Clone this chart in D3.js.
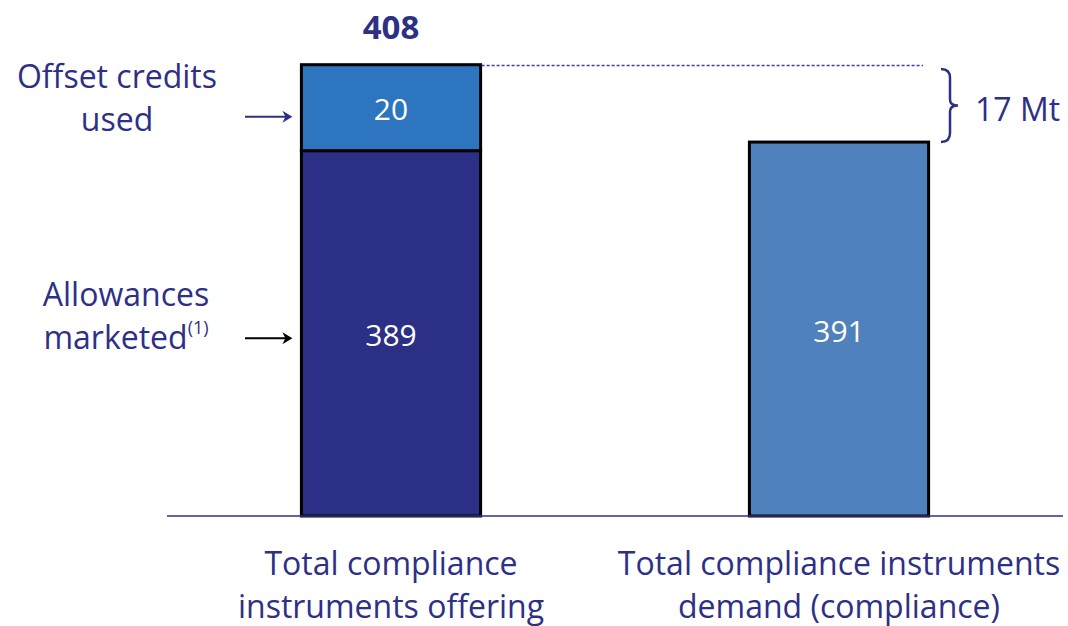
<!DOCTYPE html>
<html>
<head>
<meta charset="utf-8">
<script src="https://cdn.jsdelivr.net/npm/d3@7"></script>
<style>
  body { margin: 0; background: #fff; }
  text { font-family: "Open Sans", "Noto Sans", sans-serif; }
</style>
</head>
<body>
<svg class="chart" width="1068" height="626"></svg>
<script>
const categories = ["Total compliance instruments offering", "Total compliance instruments demand (compliance)"];
const categoryLines = [["Total compliance", "instruments offering"], ["Total compliance instruments", "demand (compliance)"]];
const segmentNames = ["Allowances marketed", "Offset credits used"];
const offeringValues = [389, 20];   // stacked, bottom to top
const demandValues = [391];
const offeringTotal = 408;
const gapLabel = "17 Mt";

function draw() {
  const svg = d3.select('svg.chart');
  const navy = '#2e3086';
  const colors = ['#2b2f86', '#2e75c0', '#4f81bd'];
  const fs = '32px';

  // axis starts well above zero in the original slide
  const y = d3.scaleLinear().domain([304, 408]).range([516, 69]);
  const x = d3.scaleBand().domain(categories).range([167, 1063])
              .paddingInner(0.6).paddingOuter(0.3);

  // stacked segments for the offering bar
  let acc = y.domain()[0];
  const stack = offeringValues.map((v, i) => {
    const lo = i === 0 ? y.domain()[0] : acc;
    const hi = (i === 0 ? 0 : lo) + v;
    acc = hi;
    return {name: segmentNames[i], lo: lo, hi: hi, value: v, color: colors[i]};
  });

  const bars = stack.map(s => ({cat: categories[0], ...s}))
    .concat([{cat: categories[1], name: 'Demand', lo: y.domain()[0], hi: demandValues[0], value: demandValues[0], color: colors[2]}]);

  svg.selectAll('rect.bar')
      .data(bars)
      .enter()
      .append('rect')
      .attr('class', 'bar')
      .attr('x', d => x(d.cat))
      .attr('width', x.bandwidth())
      .attr('y', d => y(d.hi))
      .attr('height', d => y(d.lo) - y(d.hi))
      .style('fill', d => d.color)
      .style('stroke', '#000')
      .style('stroke-width', '3px');

  // value labels inside bars
  svg.selectAll('text.val')
      .data(bars)
      .enter()
      .append('text')
      .attr('class', 'val')
      .attr('x', d => x(d.cat) + x.bandwidth() / 2)
      .attr('y', d => (y(d.lo) + y(d.hi)) / 2 + 2)
      .attr('dy', '0.36em')
      .attr('text-anchor', 'middle')
      .style('fill', '#fff')
      .style('font-size', '30px')
      .text(d => d.value);

  // baseline
  svg.append('line')
      .attr('x1', 167).attr('x2', 1063)
      .attr('y1', y.range()[0]).attr('y2', y.range()[0])
      .style('stroke', navy)
      .style('stroke-width', '1.5px');

  // total above stacked bar
  svg.append('text')
      .attr('x', x(categories[0]) + x.bandwidth() / 2)
      .attr('y', y(offeringTotal) - 30)
      .attr('text-anchor', 'middle')
      .style('fill', navy)
      .style('font-size', '33px')
      .style('font-weight', 'bold')
      .text(offeringTotal);

  // dashed reference line at the total
  svg.append('line')
      .attr('x1', x(categories[0]) + x.bandwidth() + 1)
      .attr('x2', 923)
      .attr('y1', y(offeringTotal) - 3.5).attr('y2', y(offeringTotal) - 3.5)
      .style('stroke', '#3f429a')
      .style('stroke-width', '1.4px')
      .style('stroke-dasharray', '3,2');

  // brace between total and demand
  const bx = 941, by0 = y(offeringTotal), by1 = y(demandValues[0]), bm = (by0 + by1) / 2;
  svg.append('path')
      .attr('d', `M${bx},${by0} Q${bx + 9},${by0} ${bx + 9},${by0 + 9}
                  L${bx + 9},${bm - 6} Q${bx + 9},${bm} ${bx + 17},${bm}
                  Q${bx + 9},${bm} ${bx + 9},${bm + 6}
                  L${bx + 9},${by1 - 9} Q${bx + 9},${by1} ${bx},${by1}`)
      .style('fill', 'none')
      .style('stroke', navy)
      .style('stroke-width', '2.5px');

  svg.append('text')
      .attr('x', 975)
      .attr('y', bm + 4)
      .attr('dy', '0.36em')
      .style('fill', navy)
      .style('font-size', fs)
      .text(gapLabel);

  // side labels with arrows
  const sideLabels = [
    {lines: ['Offset credits', 'used'], seg: stack[1], arrow: navy, cx: 117, dy: 9, l1: -29, l2: 14},
    {lines: ['Allowances', 'marketed'], seg: stack[0], arrow: '#000', cx: 126, dy: 5, l1: -32, l2: 11, sup: '(1)'}
  ];

  sideLabels.forEach(l => {
    const mid = (y(l.seg.lo) + y(l.seg.hi)) / 2 + l.dy;
    const t = svg.append('text')
        .attr('text-anchor', 'middle')
        .style('fill', navy)
        .style('font-size', fs);
    t.append('tspan').attr('x', l.cx).attr('y', mid + l.l1).text(l.lines[0]);
    t.append('tspan').attr('x', l.cx).attr('y', mid + l.l2).text(l.lines[1]);
    if (l.sup) {
      t.append('tspan').attr('dy', '-0.85em').style('font-size', '18px').text(l.sup);
    }
    const ax0 = 245, ax1 = x(categories[0]) - 9;
    svg.append('line')
        .attr('x1', ax0).attr('x2', ax1 - 4)
        .attr('y1', mid).attr('y2', mid)
        .style('stroke', l.arrow).style('stroke-width', '2px');
    svg.append('path')
        .attr('d', `M${ax1 - 10},${mid - 6} L${ax1},${mid} L${ax1 - 10},${mid + 6} L${ax1 - 7},${mid} Z`)
        .style('fill', l.arrow);
  });

  // category labels
  svg.selectAll('text.cat')
      .data(categories)
      .enter()
      .append('text')
      .attr('class', 'cat')
      .attr('text-anchor', 'middle')
      .style('fill', navy)
      .style('font-size', fs)
      .each(function(d, i) {
        const cx = x(d) + x.bandwidth() / 2;
        categoryLines[i].forEach((line, j) => {
          d3.select(this).append('tspan')
            .attr('x', cx)
            .attr('y', 575 + j * 43)
            .text(line);
        });
      });
}

draw();
</script>
</body>
</html>
